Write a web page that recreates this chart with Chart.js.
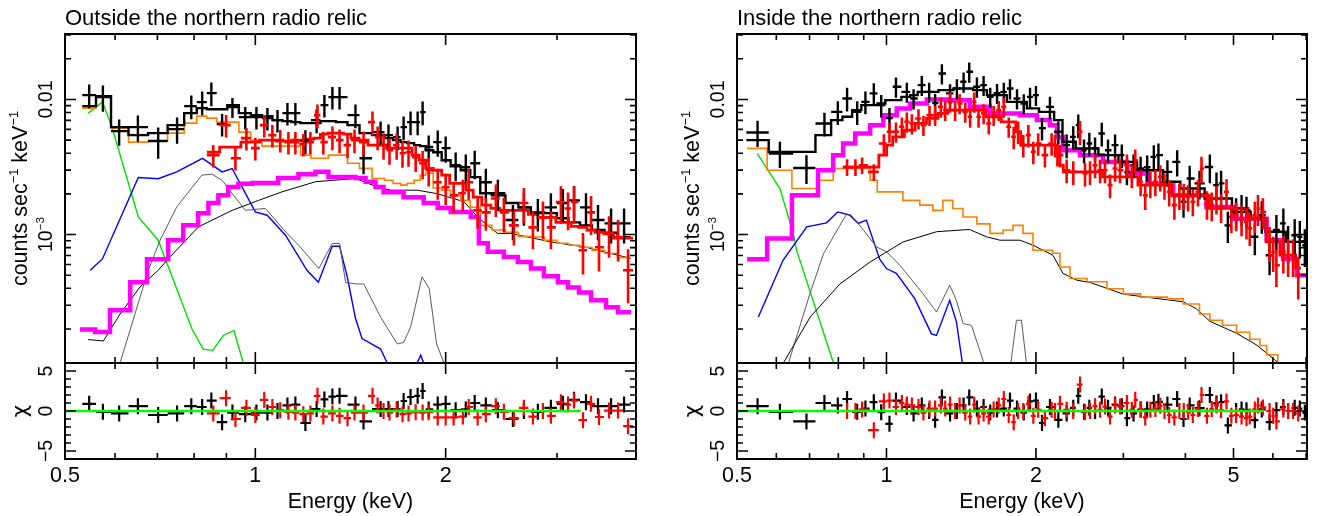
<!DOCTYPE html>
<html>
<head>
<meta charset="utf-8">
<title>Northern relic spectra</title>
<script src="https://cdn.jsdelivr.net/npm/chart.js@4.4.1/dist/chart.umd.min.js"></script>
<style>
  html, body { margin: 0; padding: 0; background: #fff; }
  #page { position: relative; width: 1324px; height: 516px; overflow: hidden; }
  #page canvas { position: absolute; top: 0; }
</style>
</head>
<body>
<div id="page">
  <canvas id="outSpec" width="662" height="516" style="left:0"></canvas>
  <canvas id="outResid" width="662" height="516" style="left:0"></canvas>
  <canvas id="inSpec" width="662" height="516" style="left:662px"></canvas>
  <canvas id="inResid" width="662" height="516" style="left:662px"></canvas>
</div>
<script>
// ---- axis ticks and labels ----
const rateRange = [1.12e-4, 0.0305];
const chiRange = [-6, 6];
const rateTicks = [0.001, 0.01];
const rateTickText = [[['10', 0], ['\u22123', 1]], [['0.01', 0]]];
const rateMinor = [2e-4, 3e-4, 4e-4, 5e-4, 6e-4, 7e-4, 8e-4, 9e-4, 2e-3, 3e-3, 4e-3, 5e-3, 6e-3, 7e-3, 8e-3, 9e-3, 0.02, 0.03];
const chiTicks = [-5, 0, 5];
const chiTickText = ['\u22125', '0', '5'];
const chiMinor = [-6, -4, -3, -2, -1, 1, 2, 3, 4, 6];
const outXRange = [0.5, 4.0];
const outXTicks = [0.5, 1, 2];
const outXTickText = ['0.5', '1', '2'];
const outXMinor = [0.6, 0.7, 0.8, 0.9, 3];
const inXRange = [0.5, 7.03];
const inXTicks = [0.5, 1, 2, 5];
const inXTickText = ['0.5', '1', '2', '5'];
const inXMinor = [0.6, 0.7, 0.8, 0.9, 3, 4, 6, 7];

// ---- outside the relic: grouped spectra (keV, counts/s/keV) ----
const outBlackE = [0.546, 0.574, 0.609, 0.652, 0.702, 0.752, 0.792, 0.824, 0.852, 0.886, 0.920, 0.964, 1.004, 1.045, 1.084, 1.124, 1.157, 1.200, 1.250, 1.286, 1.324, 1.359, 1.440, 1.483, 1.578, 1.624, 1.679, 1.716, 1.760, 1.806, 1.839, 1.880, 1.943, 2.000, 2.074, 2.152, 2.223, 2.315, 2.419, 2.555, 2.659, 2.798, 2.934, 3.065, 3.192, 3.334, 3.483, 3.653, 3.830];
const outBlackRate = [0.01076, 0.0104, 0.00583, 0.00624, 0.00492, 0.00603, 0.00892, 0.00955, 0.01113, 0.00656, 0.00877, 0.0074, 0.0074, 0.00727, 0.00703, 0.00792, 0.00792, 0.00492, 0.00703, 0.00907, 0.0104, 0.0104, 0.00765, 0.00367, 0.00573, 0.00544, 0.00526, 0.00624, 0.00679, 0.00679, 0.00805, 0.00444, 0.00483, 0.00436, 0.00326, 0.00315, 0.00337, 0.00244, 0.00202, 0.00128, 0.00159, 0.00144, 0.00159, 0.00171, 0.00179, 0.00159, 0.00128, 0.00121, 0.00121];
const outBlackRelErr = [0.20, 0.22, 0.22, 0.22, 0.26, 0.22, 0.20, 0.20, 0.20, 0.19, 0.17, 0.19, 0.19, 0.19, 0.19, 0.19, 0.19, 0.20, 0.20, 0.19, 0.19, 0.19, 0.20, 0.24, 0.20, 0.20, 0.20, 0.20, 0.20, 0.20, 0.20, 0.22, 0.22, 0.22, 0.24, 0.24, 0.24, 0.26, 0.26, 0.29, 0.27, 0.27, 0.27, 0.27, 0.27, 0.27, 0.29, 0.29, 0.29];
const outBlackModel = [0.00892, 0.01058, 0.00624, 0.00544, 0.00563, 0.00645, 0.00792, 0.00862, 0.00847, 0.00847, 0.00907, 0.00792, 0.00765, 0.00752, 0.00703, 0.00691, 0.00679, 0.00668, 0.00668, 0.00691, 0.00691, 0.00679, 0.00645, 0.00563, 0.00544, 0.00517, 0.00500, 0.00483, 0.00475, 0.00459, 0.00451, 0.00421, 0.00407, 0.00355, 0.00320, 0.00299, 0.00266, 0.00202, 0.00195, 0.00171, 0.00159, 0.00146, 0.00144, 0.00132, 0.00123, 0.00117, 0.00108, 0.00103, 0.000955];
const outBlackBkg = [0.00862, 0.0104, 0.00613, 0.00483, 0.00492, 0.00563, 0.00668, 0.00752, 0.00727, 0.00679, 0.00679, 0.00573, 0.00500, 0.00451, 0.00451, 0.00451, 0.00451, 0.00387, 0.00367, 0.00367, 0.00387, 0.00387, 0.00337, 0.00309, 0.00260, 0.00252, 0.00239, 0.00232, 0.00239, 0.00252, 0.00275, 0.00285, 0.00221, 0.00213, 0.00195, 0.00179, 0.00159, 0.00117, 0.00108, 0.00104, 0.00097, 0.00096, 0.000908, 0.000862, 0.000834, 0.000806, 0.000766, 0.000727, 0.000675];
const outBlackChi = [0.9, -0.1, -0.3, 0.6, -0.5, -0.3, 0.6, 0.5, 1.3, -1.4, -0.2, -0.4, -0.2, -0.2, 0.0, 0.7, 0.8, -1.5, 0.25, 1.45, 1.8, 1.9, 0.8, -1.3, 0.25, 0.25, 0.25, 1.25, 1.75, 1.9, 2.5, 0.2, 0.8, 0.9, 0.1, 0.2, 1.0, 0.7, 0.1, -1.0, 0.0, -0.1, 0.4, 0.9, 1.4, 1.1, 0.6, 0.6, 0.8];

const outRedE = [0.858, 0.899, 0.930, 0.968, 1.000, 1.033, 1.064, 1.095, 1.128, 1.157, 1.191, 1.222, 1.254, 1.281, 1.324, 1.359, 1.399, 1.435, 1.483, 1.532, 1.561, 1.595, 1.630, 1.673, 1.709, 1.747, 1.793, 1.839, 1.880, 1.943, 2.000, 2.059, 2.129, 2.175, 2.247, 2.315, 2.401, 2.472, 2.564, 2.659, 2.748, 2.850, 2.934, 3.043, 3.123, 3.192, 3.298, 3.396, 3.496, 3.626, 3.747, 3.886];
const outRedRate = [0.00387, 0.00645, 0.00367, 0.00517, 0.00436, 0.00645, 0.00544, 0.00500, 0.00483, 0.00483, 0.00467, 0.00483, 0.00765, 0.00483, 0.00526, 0.00500, 0.00459, 0.00500, 0.00483, 0.00679, 0.00526, 0.00459, 0.00421, 0.00459, 0.00400, 0.00407, 0.00373, 0.00337, 0.00299, 0.00244, 0.00224, 0.00195, 0.00202, 0.00244, 0.00151, 0.00146, 0.00185, 0.00146, 0.00117, 0.00171, 0.00113, 0.00134, 0.00113, 0.00174, 0.00156, 0.00174, 0.000766, 0.00146, 0.000806, 0.00102, 0.000955, 0.000544];
const outRedRelErr = [0.19, 0.19, 0.19, 0.19, 0.19, 0.19, 0.19, 0.19, 0.19, 0.19, 0.19, 0.19, 0.20, 0.19, 0.20, 0.20, 0.20, 0.20, 0.20, 0.20, 0.20, 0.22, 0.22, 0.22, 0.22, 0.22, 0.22, 0.24, 0.24, 0.26, 0.26, 0.26, 0.26, 0.26, 0.27, 0.27, 0.27, 0.29, 0.29, 0.29, 0.31, 0.31, 0.31, 0.31, 0.31, 0.31, 0.34, 0.32, 0.34, 0.34, 0.34, 0.43];
const outRedModel = [0.00407, 0.00444, 0.00444, 0.00483, 0.00483, 0.00500, 0.00500, 0.00492, 0.00492, 0.00500, 0.00500, 0.00509, 0.00517, 0.00553, 0.00563, 0.00563, 0.00553, 0.00517, 0.00500, 0.00459, 0.00459, 0.00459, 0.00436, 0.00436, 0.00436, 0.00436, 0.00387, 0.00355, 0.00309, 0.00299, 0.00275, 0.00239, 0.00239, 0.00213, 0.00189, 0.00165, 0.00156, 0.00151, 0.00151, 0.00151, 0.00141, 0.00134, 0.00134, 0.00123, 0.00123, 0.00115, 0.00113, 0.00108, 0.00104, 0.00101, 0.00094, 0.00094];
const outRedChi = [-0.3, 1.6, -1.0, 0.4, -0.5, 1.4, 0.5, 0.1, -0.1, -0.2, -0.4, -0.3, 1.9, -0.7, -0.3, -0.6, -0.9, -0.2, -0.2, 1.9, 0.7, 0.0, -0.2, 0.2, -0.4, -0.3, -0.15, -0.2, -0.15, -0.8, -0.8, -0.8, -0.7, 0.5, -0.8, -0.4, 0.6, -0.1, -0.9, 0.4, -0.7, 0.0, -0.6, 1.1, 0.8, 1.3, -1.15, 0.9, -0.75, 0.05, 0.05, -1.9];

// model components, outside
const outMagEdges = [0.528, 0.558, 0.589, 0.634, 0.674, 0.728, 0.769, 0.812, 0.843, 0.874, 0.906, 0.940, 0.989, 1.087, 1.170, 1.245, 1.305, 1.440, 1.494, 1.549, 1.595, 1.716, 1.846, 1.943, 2.037, 2.191, 2.257, 2.332, 2.472, 2.601, 2.728, 2.860, 3.010, 3.123, 3.250, 3.396, 3.587, 3.747, 3.929];
const outMag = [0.000198, 0.00019, 0.000275, 0.000443, 0.000655, 0.000908, 0.00117, 0.00144, 0.00171, 0.00195, 0.00225, 0.00238, 0.00241, 0.00262, 0.0028, 0.00291, 0.00267, 0.00262, 0.00246, 0.00225, 0.00206, 0.00189, 0.00171, 0.00157, 0.00147, 0.00135, 0.000862, 0.000745, 0.000683, 0.000626, 0.00056, 0.000491, 0.000443, 0.000406, 0.000373, 0.000326, 0.00029, 0.000266];
const outThinE = [0.544, 0.575, 0.611, 0.657, 0.702, 0.733, 0.813, 0.919, 1.012, 1.102, 1.245, 1.440, 1.559, 1.636, 1.804, 1.935, 2.139, 2.245, 2.415, 2.536, 2.934, 3.314, 3.743, 3.929];
const outThin = [0.000167, 0.000163, 0.000258, 0.000409, 0.000544, 0.000683, 0.00114, 0.00151, 0.00179, 0.00207, 0.00246, 0.0026, 0.00225, 0.00213, 0.00213, 0.00201, 0.00175, 0.00135, 0.00102, 0.00102, 0.000882, 0.00081, 0.000703, 0.000667];
const outGrayE = [0.595, 0.611, 0.677, 0.707, 0.751, 0.823, 0.854, 0.886, 0.964, 1.037, 1.122, 1.171, 1.260, 1.323, 1.359, 1.389, 1.440, 1.484, 1.578, 1.677, 1.716, 1.760, 1.835, 1.884, 1.935, 1.988, 2.015];
const outGray = [0.00007, 0.000112, 0.000544, 0.000908, 0.0016, 0.00275, 0.0028, 0.00252, 0.00151, 0.00156, 0.00102, 0.000834, 0.00056, 0.000858, 0.000858, 0.000443, 0.000431, 0.000431, 0.000245, 0.000155, 0.000159, 0.000206, 0.000486, 0.000397, 0.000155, 0.000112, 0.000083];
const outBlueE = [0.548, 0.573, 0.653, 0.702, 0.751, 0.825, 0.886, 0.919, 1.0, 1.044, 1.116, 1.207, 1.258, 1.323, 1.359, 1.398, 1.440, 1.475, 1.578, 1.624, 1.685, 1.780, 1.826, 1.874];
const outBlue = [0.000544, 0.00066, 0.00264, 0.00259, 0.00291, 0.00366, 0.00291, 0.00308, 0.00147, 0.00139, 0.000989, 0.000544, 0.000443, 0.00082, 0.00082, 0.000483, 0.00024, 0.00017, 0.000142, 0.000107, 0.000082, 0.000098, 0.000128, 0.000093];
const outGreenE = [0.544, 0.573, 0.593, 0.653, 0.702, 0.794, 0.827, 0.856, 0.890, 0.925, 0.957, 0.982];
const outGreen = [0.00792, 0.0096, 0.00627, 0.00135, 0.000908, 0.0002, 0.000142, 0.000139, 0.000179, 0.000195, 0.000112, 0.00007];
const outZeroE = [0.5, 3.27];

// ---- inside the relic ----
const inBlackE = [0.550, 0.610, 0.690, 0.750, 0.798, 0.833, 0.873, 0.907, 0.943, 0.976, 1.014, 1.045, 1.099, 1.134, 1.178, 1.219, 1.253, 1.293, 1.343, 1.386, 1.430, 1.468, 1.521, 1.569, 1.618, 1.670, 1.723, 1.773, 1.832, 1.890, 1.946, 2.000, 2.057, 2.134, 2.219, 2.306, 2.378, 2.434, 2.500, 2.562, 2.631, 2.714, 2.794, 2.887, 2.978, 3.05, 3.145, 3.25, 3.35, 3.455, 3.53, 3.68, 3.85, 3.965, 4.08, 4.27, 4.48, 4.62, 4.72, 4.87, 5.06, 5.19, 5.31, 5.52, 5.70, 5.91, 6.10, 6.30, 6.44, 6.64, 6.80, 6.96];
const inBlackRate = [0.00569, 0.00398, 0.00311, 0.00664, 0.00809, 0.01017, 0.00809, 0.00960, 0.01108, 0.00907, 0.00727, 0.01240, 0.01138, 0.01017, 0.01276, 0.01138, 0.00939, 0.01557, 0.01108, 0.01206, 0.01350, 0.01601, 0.01240, 0.01276, 0.01045, 0.01114, 0.01138, 0.01206, 0.01017, 0.00934, 0.01045, 0.01076, 0.00613, 0.00881, 0.00576, 0.00459, 0.00528, 0.00645, 0.00421, 0.00472, 0.00436, 0.00560, 0.00421, 0.00459, 0.00387, 0.00290, 0.00326, 0.00309, 0.00315, 0.00376, 0.00387, 0.00291, 0.00345, 0.00175, 0.00260, 0.00239, 0.00316, 0.00232, 0.00239, 0.00117, 0.00147, 0.00156, 0.00151, 0.000962, 0.00139, 0.000703, 0.00108, 0.00121, 0.000882, 0.000989, 0.000962, 0.000834];
const inBlackRelErr = [0.22, 0.22, 0.24, 0.20, 0.20, 0.20, 0.20, 0.19, 0.19, 0.19, 0.19, 0.17, 0.17, 0.17, 0.17, 0.17, 0.17, 0.17, 0.17, 0.17, 0.17, 0.17, 0.17, 0.17, 0.17, 0.17, 0.17, 0.17, 0.17, 0.17, 0.17, 0.17, 0.19, 0.19, 0.19, 0.20, 0.20, 0.20, 0.20, 0.20, 0.20, 0.20, 0.20, 0.20, 0.20, 0.20, 0.20, 0.22, 0.22, 0.22, 0.22, 0.22, 0.22, 0.24, 0.24, 0.24, 0.24, 0.24, 0.24, 0.26, 0.26, 0.26, 0.26, 0.27, 0.27, 0.29, 0.29, 0.29, 0.31, 0.31, 0.31, 0.31];
const inBlackModel = [0.00500, 0.00409, 0.00409, 0.00544, 0.00703, 0.00744, 0.00833, 0.00907, 0.00907, 0.00934, 0.00988, 0.00988, 0.01045, 0.01076, 0.01138, 0.01138, 0.01138, 0.01172, 0.01172, 0.01206, 0.01206, 0.01206, 0.01172, 0.01172, 0.01076, 0.01076, 0.01076, 0.00960, 0.00960, 0.00960, 0.00858, 0.00858, 0.00809, 0.00809, 0.00703, 0.00486, 0.00486, 0.00433, 0.00433, 0.00433, 0.00433, 0.00387, 0.00387, 0.00387, 0.00345, 0.00345, 0.00345, 0.00299, 0.00299, 0.00299, 0.00299, 0.00246, 0.00246, 0.00219, 0.00219, 0.00219, 0.00185, 0.00185, 0.00185, 0.00185, 0.00147, 0.00147, 0.00147, 0.00131, 0.00131, 0.00105, 0.00105, 0.00105, 0.000882, 0.000882, 0.000882, 0.000882];
const inBlackChi = [0.6, -0.1, -1.3, 1.0, 0.7, 1.5, -0.1, 0.3, 1.1, -0.15, -1.6, 1.3, 0.5, -0.3, 0.7, 0.0, -1.1, 1.7, -0.3, 0.0, 0.7, 1.7, 0.3, 0.5, -0.2, 0.2, 0.3, 1.3, 0.3, -0.2, 1.2, 1.3, -1.5, 0.5, -1.1, -0.3, 0.4, 1.9, -0.1, 0.4, 0.0, 1.8, 0.4, 0.8, 0.6, -0.9, -0.3, 0.15, 0.2, 1.0, 1.15, 0.8, 1.5, -1.0, 0.7, 0.35, 2.0, 0.95, 1.1, -1.8, 0.0, 0.2, 0.1, -1.15, 0.2, -1.4, 0.1, 0.5, 0.0, 0.4, 0.3, -0.2];

const inRedE = [0.833, 0.866, 0.893, 0.943, 0.988, 1.014, 1.045, 1.074, 1.099, 1.125, 1.160, 1.187, 1.221, 1.253, 1.287, 1.313, 1.343, 1.375, 1.404, 1.441, 1.474, 1.502, 1.533, 1.569, 1.607, 1.644, 1.683, 1.723, 1.763, 1.804, 1.841, 1.886, 1.931, 1.976, 2.021, 2.085, 2.151, 2.185, 2.236, 2.306, 2.378, 2.454, 2.511, 2.570, 2.631, 2.692, 2.755, 2.820, 2.887, 2.954, 3.05, 3.12, 3.17, 3.25, 3.32, 3.40, 3.48, 3.56, 3.63, 3.71, 3.80, 3.89, 3.97, 4.05, 4.14, 4.24, 4.31, 4.42, 4.52, 4.62, 4.72, 4.84, 4.95, 5.06, 5.19, 5.31, 5.39, 5.52, 5.60, 5.73, 5.91, 6.01, 6.10, 6.30, 6.44, 6.59, 6.75];
const inRedRate = [0.00316, 0.00316, 0.00326, 0.00291, 0.00472, 0.00576, 0.00576, 0.00627, 0.00683, 0.00664, 0.00723, 0.00645, 0.00765, 0.00765, 0.00881, 0.00833, 0.00960, 0.00833, 0.00934, 0.00809, 0.00744, 0.00960, 0.00744, 0.00788, 0.00664, 0.00765, 0.00833, 0.00881, 0.00627, 0.00528, 0.00576, 0.00459, 0.00544, 0.00409, 0.00472, 0.00387, 0.00472, 0.00459, 0.00387, 0.00299, 0.00291, 0.00576, 0.00283, 0.00291, 0.00326, 0.00299, 0.00299, 0.00232, 0.00308, 0.00299, 0.00326, 0.00275, 0.00355, 0.00246, 0.00195, 0.00238, 0.00246, 0.00267, 0.00232, 0.00207, 0.00165, 0.00195, 0.00195, 0.00190, 0.00175, 0.00207, 0.00308, 0.00169, 0.00165, 0.00185, 0.00160, 0.00207, 0.00135, 0.00139, 0.00131, 0.00124, 0.00111, 0.00139, 0.00156, 0.00147, 0.000882, 0.000745, 0.000593, 0.000745, 0.000703, 0.000703, 0.000500];
const inRedRelErr = [0.14, 0.14, 0.14, 0.14, 0.17, 0.17, 0.17, 0.17, 0.17, 0.17, 0.17, 0.17, 0.17, 0.17, 0.17, 0.17, 0.17, 0.17, 0.17, 0.17, 0.17, 0.17, 0.17, 0.17, 0.17, 0.17, 0.17, 0.17, 0.17, 0.19, 0.19, 0.19, 0.19, 0.19, 0.19, 0.19, 0.19, 0.19, 0.19, 0.20, 0.20, 0.20, 0.20, 0.20, 0.20, 0.20, 0.20, 0.20, 0.20, 0.20, 0.20, 0.20, 0.20, 0.22, 0.22, 0.22, 0.22, 0.22, 0.22, 0.22, 0.22, 0.22, 0.22, 0.22, 0.22, 0.22, 0.22, 0.24, 0.24, 0.24, 0.24, 0.24, 0.24, 0.24, 0.26, 0.26, 0.26, 0.26, 0.26, 0.26, 0.29, 0.29, 0.31, 0.31, 0.31, 0.31, 0.34];
const inRedModel = [0.00316, 0.00316, 0.00316, 0.00316, 0.00387, 0.00459, 0.00528, 0.00528, 0.00593, 0.00593, 0.00664, 0.00664, 0.00723, 0.00723, 0.00788, 0.00788, 0.00833, 0.00833, 0.00833, 0.00833, 0.00833, 0.00833, 0.00833, 0.00833, 0.00744, 0.00744, 0.00744, 0.00683, 0.00683, 0.00683, 0.00576, 0.00459, 0.00459, 0.00459, 0.00459, 0.00459, 0.00459, 0.00459, 0.00326, 0.00291, 0.00291, 0.00291, 0.00291, 0.00291, 0.00291, 0.00291, 0.00267, 0.00267, 0.00267, 0.00267, 0.00267, 0.00267, 0.00267, 0.00232, 0.00232, 0.00232, 0.00232, 0.00232, 0.00232, 0.00232, 0.00195, 0.00195, 0.00195, 0.00195, 0.00195, 0.00195, 0.00195, 0.00195, 0.00156, 0.00156, 0.00156, 0.00156, 0.00156, 0.00156, 0.00156, 0.00156, 0.00131, 0.00131, 0.00131, 0.00131, 0.000882, 0.000882, 0.000882, 0.000703, 0.000703, 0.000703, 0.000563];
const inRedChi = [0.0, 0.0, 0.2, -2.4, 1.2, 1.3, 0.5, 1.0, 0.8, 0.7, 0.5, -0.2, 0.3, 0.3, 0.7, 0.3, 0.8, 0.0, 0.7, -0.2, -0.7, 0.8, -0.7, -0.3, -0.7, 0.2, 0.7, 1.5, -0.5, -1.4, 0.0, 0.0, 0.9, -0.6, 0.15, -0.9, 0.15, 0.0, 0.9, 0.15, 0.0, 3.3, -0.15, 0.0, 0.6, 0.15, 0.55, -0.7, 0.7, 0.55, 1.0, 0.15, 1.4, 0.25, -0.8, 0.15, 0.25, 0.65, 0.0, -0.5, -0.8, 0.0, 0.0, -0.1, -0.5, 0.25, 2.0, -0.6, 0.25, 0.7, 0.1, 1.2, -0.6, -0.5, -0.7, -0.9, -0.7, 0.2, 0.7, 0.45, 0.0, -0.6, -1.3, 0.2, 0.0, 0.0, -0.3];

// model components, inside
const inMagEdges = [0.524, 0.575, 0.645, 0.728, 0.781, 0.818, 0.865, 0.927, 0.985, 1.049, 1.115, 1.206, 1.323, 1.472, 1.616, 1.858, 2.009, 2.134, 2.205, 2.267, 2.453, 2.730, 3.056, 3.354, 3.78, 4.41, 4.98, 5.83, 6.29, 6.71, 7.03];
const inMag = [0.000656, 0.000934, 0.00195, 0.00299, 0.00387, 0.00472, 0.0056, 0.00645, 0.00765, 0.00858, 0.00934, 0.01, 0.00988, 0.00881, 0.00788, 0.00765, 0.00703, 0.00645, 0.00528, 0.00421, 0.00387, 0.00345, 0.00283, 0.00238, 0.00195, 0.0016, 0.00131, 0.000908, 0.00066, 0.0005];
const inBkgEdges = [0.524, 0.575, 0.645, 0.728, 0.781, 0.927, 0.958, 1.079, 1.167, 1.240, 1.299, 1.360, 1.426, 1.521, 1.616, 1.717, 1.798, 1.884, 1.973, 2.164, 2.236, 2.342, 2.535, 2.781, 3.0, 3.25, 3.68, 3.96, 4.27, 4.48, 4.75, 5.07, 5.39, 5.65, 5.83, 6.14, 6.49];
const inBkg = [0.00434, 0.00299, 0.00219, 0.00252, 0.00308, 0.00252, 0.00207, 0.00179, 0.00165, 0.00151, 0.00179, 0.00156, 0.00135, 0.0012, 0.00102, 0.00108, 0.00117, 0.00102, 0.000766, 0.000727, 0.000575, 0.000473, 0.000447, 0.000397, 0.000364, 0.000344, 0.000334, 0.000306, 0.000258, 0.000232, 0.000213, 0.000189, 0.000168, 0.000151, 0.000129, 0.000095];
const inThinE = [0.596, 0.620, 0.702, 0.806, 0.927, 1.080, 1.263, 1.470, 1.590, 1.693, 1.858, 1.973, 2.164, 2.267, 2.419, 2.570, 3.0, 3.51, 3.96, 4.21, 4.48, 5.07, 5.57, 6.20, 6.49];
const inThin = [0.000077, 0.000112, 0.000245, 0.000431, 0.000626, 0.000882, 0.00105, 0.00109, 0.000962, 0.000908, 0.000908, 0.000834, 0.000703, 0.000516, 0.000459, 0.000442, 0.000362, 0.000336, 0.000318, 0.000282, 0.000228, 0.000186, 0.000152, 0.00011, 0.000083];
const inGrayE = [0.616, 0.635, 0.701, 0.747, 0.832, 0.877, 0.955, 1.0, 1.064, 1.185, 1.261, 1.341, 1.383, 1.427, 1.483, 1.565, 1.578, 1.757, 1.827, 1.870, 1.937];
const inGray = [0.000077, 0.000112, 0.000364, 0.000723, 0.00143, 0.00121, 0.00081, 0.000745, 0.000593, 0.000364, 0.000267, 0.000421, 0.000326, 0.000219, 0.000213, 0.000117, 0.000098, 0.000077, 0.000232, 0.000232, 0.000077];
const inBlueE = [0.552, 0.619, 0.691, 0.757, 0.798, 0.845, 0.877, 0.911, 0.969, 1.0, 1.047, 1.140, 1.232, 1.261, 1.341, 1.383, 1.422, 1.444];
const inBlue = [0.000245, 0.000645, 0.00114, 0.00122, 0.00147, 0.00139, 0.00121, 0.00128, 0.000656, 0.00056, 0.000516, 0.000335, 0.000184, 0.000179, 0.000326, 0.000227, 0.000112, 0.000077];
const inGreenE = [0.549, 0.610, 0.649, 0.659, 0.782, 0.806];
const inGreen = [0.00398, 0.00219, 0.00102, 0.000766, 0.000112, 0.000077];
const inZeroE = [0.5, 5.75];

// ---- helpers ----
const FONT = '"Liberation Sans", Arial, Helvetica, sans-serif';
const GREEK = '"DejaVu Sans", sans-serif';
Chart.defaults.font.family = FONT;

// channel-group edges halfway (in log) between neighbouring bin centres
function binEdges(E) {
  const ed = [];
  for (let i = 1; i < E.length; i++) ed.push(Math.sqrt(E[i - 1] * E[i]));
  ed.unshift(E[0] * E[0] / ed[0]);
  ed.push(E[E.length - 1] * E[E.length - 1] / ed[ed.length - 1]);
  return ed;
}

// each bin becomes a "+": horizontal bar over the bin, vertical bar over +-sigma
function crossPoints(E, val, sig, edges) {
  const pts = [];
  E.forEach((e, i) => {
    const v = val[i];
    pts.push({x: edges[i], y: v}, {x: edges[i + 1], y: v}, {x: e, y: null},
             {x: e, y: v - sig[i]}, {x: e, y: v + sig[i]}, {x: e, y: null});
  });
  return pts;
}

function stepPoints(edges, vals) {
  const pts = vals.map((v, i) => ({x: edges[i], y: v}));
  pts.push({x: edges[vals.length], y: vals[vals.length - 1]});
  return pts;
}

function curvePoints(E, vals) {
  return E.map((e, i) => ({x: e, y: vals[i]}));
}

function line(data, color, width, extra) {
  return Object.assign({
    data, borderColor: color, borderWidth: width, pointRadius: 0,
    fill: false, tension: 0, spanGaps: false, clip: 0, borderCapStyle: 'butt'
  }, extra || {});
}

// text in pieces so exponents can be raised and shrunk; [text, sup, family]
function drawRich(ctx, parts, size, x, y, vertical) {
  ctx.save();
  ctx.translate(x, y);
  if (vertical) ctx.rotate(-Math.PI / 2);
  const fonts = parts.map(p => (p[1] ? size * 0.6 : size) + 'px ' + (p[2] || FONT));
  let w = 0;
  const ws = parts.map((p, i) => {
    ctx.font = fonts[i];
    const m = ctx.measureText(p[0]).width;
    w += m;
    return m;
  });
  ctx.textAlign = 'left';
  ctx.textBaseline = 'alphabetic';
  let cx = -w / 2;
  parts.forEach((p, i) => {
    ctx.font = fonts[i];
    ctx.fillText(p[0], cx, p[1] ? -size * 0.4 : 0);
    cx += ws[i];
  });
  ctx.restore();
}

// boxed frame with inward ticks on all four sides, plus labels
const boxAxes = {
  id: 'boxAxes',
  afterDraw(chart, _args, o) {
    const {ctx, chartArea: a} = chart;
    const sx = chart.scales.x, sy = chart.scales.y;
    ctx.save();
    ctx.strokeStyle = '#000';
    ctx.fillStyle = '#000';
    ctx.lineWidth = 1.6;
    ctx.beginPath();
    const tickX = (v, len) => {
      const p = sx.getPixelForValue(v);
      ctx.moveTo(p, a.bottom); ctx.lineTo(p, a.bottom - len);
      ctx.moveTo(p, a.top); ctx.lineTo(p, a.top + len);
    };
    const tickY = (v, len) => {
      const p = sy.getPixelForValue(v);
      ctx.moveTo(a.left, p); ctx.lineTo(a.left + len, p);
      ctx.moveTo(a.right, p); ctx.lineTo(a.right - len, p);
    };
    o.xMajor.forEach(v => tickX(v, 11));
    o.xMinor.forEach(v => tickX(v, 6));
    o.yMajor.forEach(v => tickY(v, 11));
    o.yMinor.forEach(v => tickY(v, 6));
    ctx.stroke();
    ctx.lineWidth = 2;
    ctx.strokeRect(a.left, a.top, a.right - a.left, a.bottom - a.top);

    o.yMajor.forEach((v, i) => drawRich(ctx, o.yText[i], 19.5, a.left - 13, sy.getPixelForValue(v), true));
    drawRich(ctx, o.yTitle, 21.5, a.left - 38, (a.top + a.bottom) / 2, true);

    if (o.title) {
      ctx.font = '22px ' + FONT;
      ctx.textAlign = 'left';
      ctx.textBaseline = 'alphabetic';
      ctx.fillText(o.title, a.left, 25);
    }
    if (o.xText) {
      ctx.font = '21.5px ' + FONT;
      ctx.textAlign = 'center';
      ctx.textBaseline = 'alphabetic';
      o.xMajor.forEach((v, i) => ctx.fillText(o.xText[i], sx.getPixelForValue(v), a.bottom + 23));
      ctx.fillText(o.xTitle, (a.left + a.right) / 2, a.bottom + 49);
    }
    ctx.restore();
  }
};

function baseOptions(padL, padR, top, bottom, xRange, yScale, axes) {
  return {
    responsive: false,
    animation: false,
    events: [],
    layout: { padding: { left: padL, right: padR, top: top, bottom: bottom } },
    scales: {
      x: { type: 'logarithmic', min: xRange[0], max: xRange[1], display: false },
      y: Object.assign({ display: false }, yScale)
    },
    plugins: { legend: { display: false }, tooltip: { enabled: false }, boxAxes: axes }
  };
}

function drawPanel(p) {
  const bEdges = binEdges(p.blackE);
  const rEdges = binEdges(p.redE);
  const bSig = p.blackRate.map((r, i) => r * p.blackRelErr[i]);
  const rSig = p.redRate.map((r, i) => r * p.redRelErr[i]);

  new Chart(document.getElementById(p.specId), {
    type: 'line',
    data: { datasets: [
      line(crossPoints(p.redE, p.redRate, rSig, rEdges), '#ff0000', 2.6),
      line(crossPoints(p.blackE, p.blackRate, bSig, bEdges), '#000000', 2.4),
      line(stepPoints(rEdges, p.redModel), '#ff0000', 2.8, { stepped: true }),
      line(stepPoints(bEdges, p.blackModel), '#000000', 2.4, { stepped: true }),
      line(stepPoints(p.magEdges, p.mag), '#ff00ff', 4.5, { stepped: true }),
      line(stepPoints(p.bkgEdges || bEdges, p.bkg), '#ff8000', 1.6, { stepped: true }),
      line(curvePoints(p.thinE, p.thin), '#000000', 1),
      line(curvePoints(p.grayE, p.gray), '#5a5a5a', 1),
      line(curvePoints(p.blueE, p.blue), '#0000ff', 1.4),
      line(curvePoints(p.greenE, p.green), '#00e000', 1.4)
    ]},
    options: baseOptions(p.padL, p.padR, 34, 153, p.xRange,
      { type: 'logarithmic', min: rateRange[0], max: rateRange[1] },
      { title: p.title, xMajor: p.xTicks, xMinor: p.xMinor, yMajor: rateTicks, yMinor: rateMinor,
        yText: rateTickText, yTitle: [['counts sec', 0], ['\u22121', 1], [' keV', 0], ['\u22121', 1]] }),
    plugins: [boxAxes]
  });

  new Chart(document.getElementById(p.residId), {
    type: 'line',
    data: { datasets: [
      line(curvePoints(p.zeroE, p.zeroE.map(() => 0)), '#00ff00', 2.5),
      line(crossPoints(p.redE, p.redChi, p.redChi.map(() => 1), rEdges), '#ff0000', 2.2),
      line(crossPoints(p.blackE, p.blackChi, p.blackChi.map(() => 1), bEdges), '#000000', 2.2)
    ]},
    options: baseOptions(p.padL, p.padR, 363, 57, p.xRange,
      { type: 'linear', min: chiRange[0], max: chiRange[1] },
      { xMajor: p.xTicks, xMinor: p.xMinor, xText: p.xTickText, xTitle: 'Energy (keV)',
        yMajor: chiTicks, yMinor: chiMinor, yText: chiTickText.map(t => [[t, 0]]), yTitle: [['\u03c7', 0, GREEK]] }),
    plugins: [boxAxes]
  });
}

drawPanel({
  specId: 'outSpec', residId: 'outResid', padL: 65, padR: 26, xRange: outXRange,
  title: 'Outside the northern radio relic',
  xTicks: outXTicks, xTickText: outXTickText, xMinor: outXMinor,
  blackE: outBlackE, blackRate: outBlackRate, blackRelErr: outBlackRelErr, blackModel: outBlackModel, blackChi: outBlackChi,
  redE: outRedE, redRate: outRedRate, redRelErr: outRedRelErr, redModel: outRedModel, redChi: outRedChi,
  bkgEdges: null, bkg: outBlackBkg, magEdges: outMagEdges, mag: outMag,
  thinE: outThinE, thin: outThin, grayE: outGrayE, gray: outGray,
  blueE: outBlueE, blue: outBlue, greenE: outGreenE, green: outGreen, zeroE: outZeroE
});

drawPanel({
  specId: 'inSpec', residId: 'inResid', padL: 75, padR: 17, xRange: inXRange,
  title: 'Inside the northern radio relic',
  xTicks: inXTicks, xTickText: inXTickText, xMinor: inXMinor,
  blackE: inBlackE, blackRate: inBlackRate, blackRelErr: inBlackRelErr, blackModel: inBlackModel, blackChi: inBlackChi,
  redE: inRedE, redRate: inRedRate, redRelErr: inRedRelErr, redModel: inRedModel, redChi: inRedChi,
  bkgEdges: inBkgEdges, bkg: inBkg, magEdges: inMagEdges, mag: inMag,
  thinE: inThinE, thin: inThin, grayE: inGrayE, gray: inGray,
  blueE: inBlueE, blue: inBlue, greenE: inGreenE, green: inGreen, zeroE: inZeroE
});
</script>
</body>
</html>
